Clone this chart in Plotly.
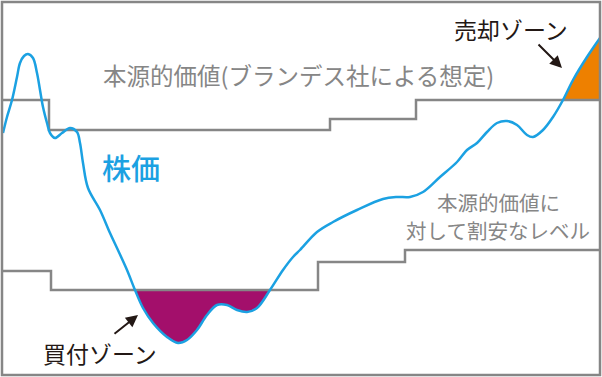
import plotly.graph_objects as go

# Conceptual diagram, coordinates in diagram units (x: time, y: inverted price scale)
price_x = [3, 7, 12, 17, 20, 24, 28, 33, 37, 40, 43, 47, 50, 55, 62, 70, 77, 80, 83, 88,
           100, 110, 117, 127, 135, 143, 153, 167, 178, 187, 197, 207, 217, 227, 237, 247,
           257, 270, 283, 293, 300, 317, 333, 357, 383, 397, 410, 423, 440, 457, 467, 477,
           487, 497, 507, 517, 527, 533, 543, 553, 563, 573, 587, 600]
price_y = [133, 117, 100, 77, 63, 56, 54, 58, 73, 90, 107, 123, 133, 138, 133, 128, 132, 143, 163, 188,
           210, 233, 248, 270, 290, 308, 323, 337, 343, 340, 330, 315, 305, 305, 310, 312,
           308, 290, 270, 257, 250, 232, 222, 210, 199, 197, 197, 192, 177, 162, 150, 143,
           132, 123, 121, 125, 135, 137, 130, 117, 100, 80, 57, 38]

value_x = [2, 49, 49, 330, 330, 416, 416, 600]
value_y = [100, 100, 130, 130, 119, 119, 100, 100]

cheap_x = [2, 51, 51, 318, 318, 405, 405, 600]
cheap_y = [271, 271, 290, 290, 262, 262, 250, 250]

GRAY = "#868686"
BLUE = "#1ba1e2"
PURPLE = "#a30f6b"
ORANGE = "#ee8000"
INK = "#231815"
FONT = "Noto Sans CJK JP"

# buy zone: price below cheap level
buy_x = [x for x in price_x if 135 <= x <= 270]
buy_y = [y for x, y in zip(price_x, price_y) if 135 <= x <= 270]
buy_x = buy_x + [buy_x[0]]
buy_y = buy_y + [290]

# sell zone: price above intrinsic value
sell_x = [x for x in price_x if x >= 563]
sell_y = [y for x, y in zip(price_x, price_y) if x >= 563]
sell_x = sell_x + [600, 563]
sell_y = sell_y + [100, 100]

fig = go.Figure()
fig.add_trace(go.Scatter(x=buy_x, y=buy_y, fill="toself", fillcolor=PURPLE,
                         line=dict(width=0), mode="lines", hoverinfo="skip"))
fig.add_trace(go.Scatter(x=sell_x, y=sell_y, fill="toself", fillcolor=ORANGE,
                         line=dict(width=0), mode="lines", hoverinfo="skip"))
fig.add_trace(go.Scatter(x=value_x, y=value_y, mode="lines",
                         line=dict(color=GRAY, width=2.5)))
fig.add_trace(go.Scatter(x=cheap_x, y=cheap_y, mode="lines",
                         line=dict(color=GRAY, width=2.5)))
fig.add_trace(go.Scatter(x=price_x, y=price_y, mode="lines",
                         line=dict(color=BLUE, width=2.5, shape="spline", smoothing=1.0)))

fig.add_shape(type="rect", x0=2, x1=600, y0=2, y1=375,
              line=dict(color=GRAY, width=2.5), layer="above")

fig.add_annotation(x=298, y=75, text="本源的価値(ブランデス社による想定)", showarrow=False,
                   font=dict(family=FONT, size=23.5, color=GRAY))
fig.add_annotation(x=131, y=167, text="株価", showarrow=False,
                   font=dict(family=FONT, size=29, color=BLUE, weight=500))
fig.add_annotation(x=498, y=202, text="本源的価値に", showarrow=False,
                   font=dict(family=FONT, size=20.5, color=GRAY))
fig.add_annotation(x=498, y=230, text="対して割安なレベル", showarrow=False,
                   font=dict(family=FONT, size=20.5, color=GRAY))
fig.add_annotation(x=511, y=29, text="売却ゾーン", showarrow=False,
                   font=dict(family=FONT, size=23, color=INK))
fig.add_annotation(x=100, y=353, text="買付ゾーン", showarrow=False,
                   font=dict(family=FONT, size=23, color=INK))
# arrows
fig.add_annotation(x=562, y=68, ax=537, ay=43, axref="x", ayref="y", xref="x", yref="y",
                   text="", showarrow=True, arrowhead=2, arrowsize=1.2, arrowwidth=2,
                   arrowcolor=INK)
fig.add_annotation(x=138, y=315, ax=113, ay=335, axref="x", ayref="y", xref="x", yref="y",
                   text="", showarrow=True, arrowhead=2, arrowsize=1.2, arrowwidth=2,
                   arrowcolor=INK)

fig.update_layout(width=602, height=377, margin=dict(l=0, r=0, t=0, b=0),
                  paper_bgcolor="white", plot_bgcolor="white", showlegend=False)
fig.update_xaxes(range=[0, 602], visible=False, fixedrange=True)
fig.update_yaxes(range=[377, 0], visible=False, fixedrange=True)

fig.write_html("out.html", config={"displayModeBar": False},
               post_script="document.body.style.margin='0';document.body.style.overflow='hidden';")
